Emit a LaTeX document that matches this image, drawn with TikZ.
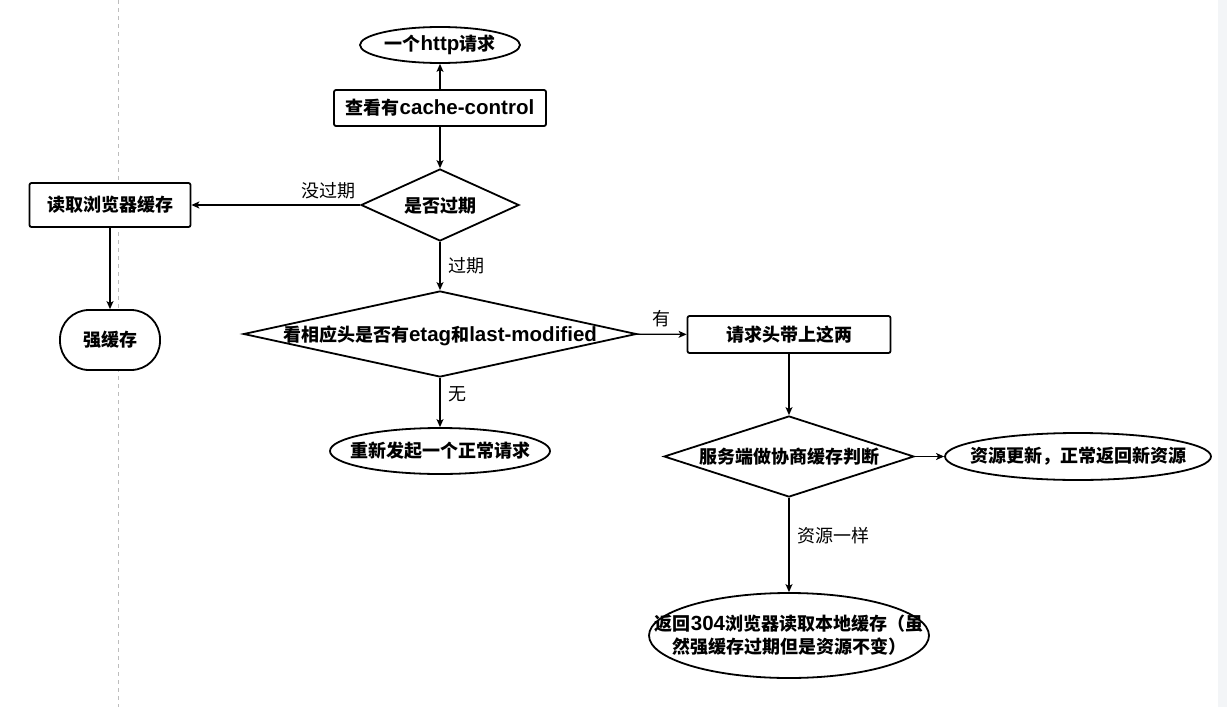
\documentclass[tikz,border=0pt]{standalone}
\usepackage{fontspec}
\setmainfont{Noto Sans CJK SC}
\newfontfamily\lat[Scale=1.14]{Liberation Sans}
\usetikzlibrary{shapes.geometric, arrows.meta}
\definecolor{panelgray}{HTML}{F3F5F7}
\definecolor{guidegray}{HTML}{BDBDBD}

\begin{document}
\begin{tikzpicture}[x=1pt, y=-1pt, line width=1.8pt,
    font=\fontsize{18}{23}\selectfont\bfseries,
    % 样式定义
    box/.style={draw, fill=white, rounded corners=2pt, inner sep=0pt},
    oval/.style={draw, fill=white, ellipse, inner xsep=-40pt, inner ysep=0pt, align=center},
    judge/.style={draw, fill=white, diamond, inner sep=0pt, text height=14pt, text depth=0pt},
    arr/.style={-{Stealth[length=8pt, width=7pt, inset=2pt]}, line width=1.2pt},
    tag/.style={font=\fontsize{18}{23}\selectfont\mdseries, inner sep=2pt}
]

    % ▼▼▼【画布 & 背景】▼▼▼
    \useasboundingbox (0,0) rectangle (1227,707);
    \fill[panelgray] (1218,0) rectangle (1227,707);
    \draw[guidegray, line width=1pt, dash pattern=on 4pt off 4pt] (118,0) -- (118,707);

    % ▼▼▼【节点区】▼▼▼

    % --- 主干 (中间一列) ---
    \node[oval, minimum width=160, minimum height=36] (req) at (440,45) {一个{\lat http}请求};
    \node[box, minimum width=212, minimum height=36] (check) at (440,108) {查看有{\lat cache-control}};
    % 菱形: aspect = 宽 / 高
    \node[judge, aspect=2.19, minimum width=158, minimum height=72] (expired) at (440,205) {是否过期};
    \node[judge, aspect=4.57, minimum width=393, minimum height=86] (headers) at (440,334) {看相应头是否有{\lat etag}和{\lat last-modified}};
    \node[oval, minimum width=220, minimum height=46] (renew) at (440,451) {重新发起一个正常请求};

    % --- 左边 (没过期) ---
    \node[box, minimum width=161, minimum height=44] (readcache) at (110,205) {读取浏览器缓存};
    \node[box, rounded corners=29pt, minimum width=100, minimum height=60] (strong) at (110,340) {强缓存};

    % --- 右边 (协商缓存) ---
    \node[box, minimum width=203, minimum height=37] (carry) at (789,334.5) {请求头带上这两};
    \node[judge, aspect=3.09, minimum width=250, minimum height=81] (nego) at (789,456.5) {服务端做协商缓存判断};
    \node[oval, minimum width=266, minimum height=47] (update) at (1078,456.5) {资源更新，正常返回新资源};
    \node[oval, minimum width=280, minimum height=85] (back) at (789,635.5)
        {返回{\lat 304}浏览器读取本地缓存（虽\\然强缓存过期但是资源不变）};

    % ▼▼▼【连线区】▼▼▼
    \draw[arr] (check) -- (req);
    \draw[arr] (check) -- (expired);
    \draw[arr] (expired) -- (readcache) node[pos=0.19, above=3pt, tag] {没过期};
    \draw[arr] (readcache) -- (strong);
    \draw[arr] (expired) -- (headers) node[midway, right=6pt, tag] {过期};
    \draw[arr] (headers) -- (carry) node[midway, above=5pt, tag] {有};
    \draw[arr] (headers) -- (renew) node[pos=0.33, right=6pt, tag] {无};
    \draw[arr] (carry) -- (nego);
    \draw[arr] (nego) -- (update);
    \draw[arr] (nego) -- (back) node[pos=0.4, right=6pt, tag] {资源一样};

\end{tikzpicture}
\end{document}
